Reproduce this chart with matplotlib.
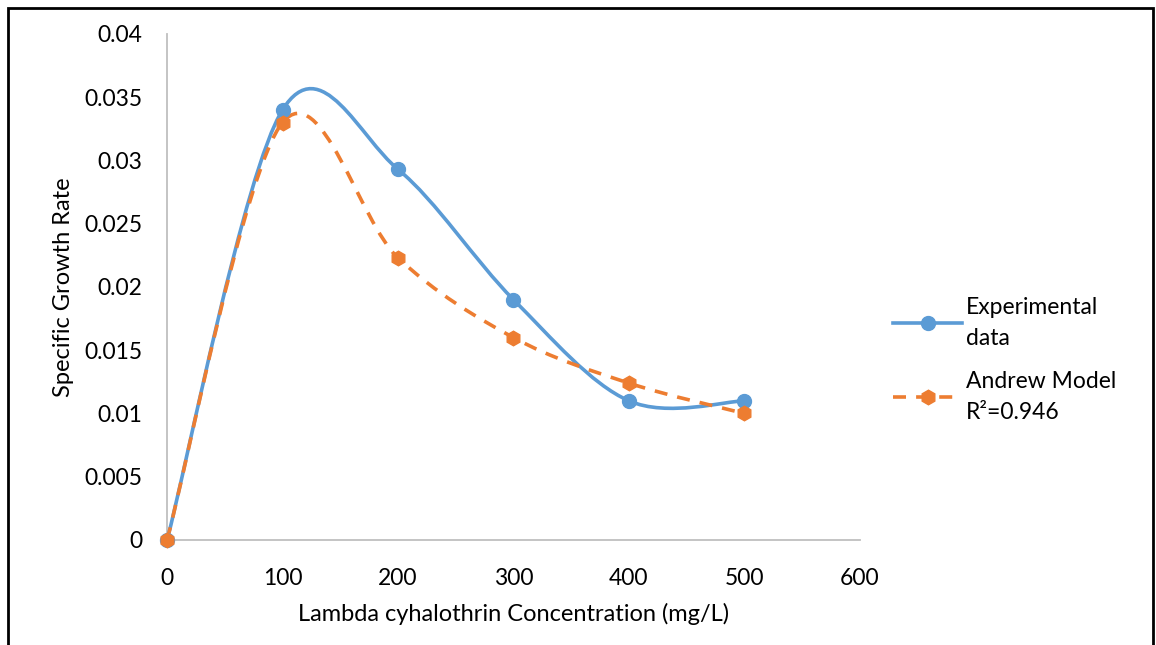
import matplotlib.pyplot as plt
from matplotlib.path import Path
from matplotlib.patches import PathPatch, Rectangle
from matplotlib.lines import Line2D

plt.rcParams['font.family'] = ['Lato', 'DejaVu Sans']

# data
conc = [0, 100, 200, 300, 400, 500]
experimental = [0.0, 0.034, 0.0293, 0.019, 0.011, 0.011]
andrew = [0.0, 0.033, 0.0223, 0.016, 0.0124, 0.0100]

x_ticks = [0, 100, 200, 300, 400, 500, 600]
y_ticks = [0, 0.005, 0.01, 0.015, 0.02, 0.025, 0.03, 0.035, 0.04]
y_labels = ['0', '0.005', '0.01', '0.015', '0.02', '0.025', '0.03', '0.035', '0.04']

blue = '#5B9BD5'
orange = '#ED7D31'
fs = 16.5
lw = 2.6
dash = (0, (3.6, 2.8))


def smooth_path(xs, ys):
    # excel-style smoothed line: cubic bezier segments through the points
    pts = list(zip(xs, ys))
    n = len(pts)
    verts = [pts[0]]
    codes = [Path.MOVETO]
    for i in range(n - 1):
        p0 = pts[i - 1] if i > 0 else pts[i]
        p1 = pts[i]
        p2 = pts[i + 1]
        p3 = pts[i + 2] if i + 2 < n else pts[i + 1]
        c1 = (p1[0] + (p2[0] - p0[0]) / 6, p1[1] + (p2[1] - p0[1]) / 6)
        c2 = (p2[0] - (p3[0] - p1[0]) / 6, p2[1] - (p3[1] - p1[1]) / 6)
        verts += [c1, c2, p2]
        codes += [Path.CURVE4] * 3
    return Path(verts, codes)


fig = plt.figure(figsize=(11.56, 6.45), dpi=100)
ax = fig.add_axes([0.1445, 0.1628, 0.5994, 0.7845])

ax.add_patch(PathPatch(smooth_path(conc, experimental), fill=False,
                       edgecolor=blue, lw=lw, capstyle='round', zorder=3))
ax.add_patch(PathPatch(smooth_path(conc, andrew), fill=False,
                       edgecolor=orange, lw=lw, linestyle=dash, zorder=4))
ax.plot(conc, experimental, 'o', color=blue, ms=10, zorder=5, clip_on=False)
ax.plot(conc, andrew, 'h', color=orange, ms=10.5, zorder=6, clip_on=False)

ax.set_xlim(0, 600)
ax.set_ylim(0, 0.04)
ax.set_xticks(x_ticks)
ax.set_yticks(y_ticks)
ax.set_yticklabels(y_labels)
ax.tick_params(length=0, labelsize=fs)
ax.tick_params(axis='x', pad=20)
ax.tick_params(axis='y', pad=18)
for s in ['top', 'right']:
    ax.spines[s].set_visible(False)
for s in ['left', 'bottom']:
    ax.spines[s].set_color('#BFBFBF')
    ax.spines[s].set_linewidth(1.3)

ax.set_xlabel('Lambda cyhalothrin Concentration (mg/L)', fontsize=fs + 0.5, labelpad=10)
ax.set_ylabel('Specific Growth Rate', fontsize=fs + 0.5, labelpad=7)

h1 = Line2D([], [], color=blue, lw=lw, marker='o', ms=10)
h2 = Line2D([], [], color=orange, lw=lw, linestyle=dash, marker='h', ms=10.5)
leg = fig.legend([h1, h2], ['Experimental\ndata', 'Andrew Model\nR²=0.946'],
                 loc='center left', bbox_to_anchor=(0.755, 0.442), frameon=False,
                 fontsize=fs, handlelength=3.0, handletextpad=0.15, labelspacing=0.95)
for t in leg.get_texts():
    t.set_linespacing(1.6)

# chart border
fig.add_artist(Rectangle((8 / 1156, -0.05), 1145 / 1156, 1.05 - 8 / 645,
                         transform=fig.transFigure, fill=False,
                         edgecolor='black', lw=2))

fig.savefig('out.png', dpi=100)
